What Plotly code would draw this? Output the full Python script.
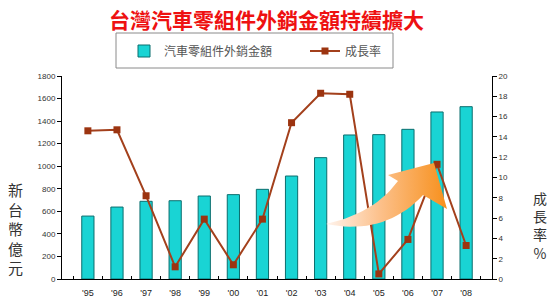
import plotly.graph_objects as go
import numpy as np

years = ["'95", "'96", "'97", "'98", "'99", "'00", "'01", "'02", "'03", "'04", "'05", "'06", "'07", "'08"]
export_value = [558, 638, 689, 694, 736, 748, 795, 913, 1076, 1277, 1280, 1327, 1481, 1528]
growth_rate = [14.6, 14.7, 8.2, 1.2, 5.9, 1.4, 5.9, 15.4, 18.3, 18.2, 0.5, 3.9, 11.3, 3.3]

W, H = 550, 303
L, R, T, B = 62, 58, 76, 24
PW, PH = W - L - R, H - T - B

def px(x):
    return (x - L) / PW

def py(y):
    return (H - B - y) / PH

fig = go.Figure()
fig.add_trace(go.Bar(
    x=years, y=export_value, name="汽車零組件外銷金額",
    marker=dict(color="#19d4d4", line=dict(color="#0b6e6e", width=1)),
    yaxis="y"))
fig.add_trace(go.Scatter(
    x=years, y=growth_rate, name="成長率", mode="lines+markers",
    line=dict(color="#a3401c", width=2),
    marker=dict(symbol="square", size=7, color="#9c3410"),
    yaxis="y2"))

# decorative arrow (pixel coordinates on an overlay axis)
def qbez(p0, p1, p2, n=20):
    t = np.linspace(0, 1, n)[:, None]
    p0, p1, p2 = map(np.array, (p0, p1, p2))
    return ((1 - t) ** 2 * p0 + 2 * (1 - t) * t * p1 + t ** 2 * p2)

top = qbez((326, 224), (375, 213), (398, 181))
head = np.array([(388, 175), (434, 163), (447, 209), (423, 195)])
bot = qbez((423, 195), (385, 236), (326, 224))
pts = np.vstack([top, head, bot])
fig.add_trace(go.Scatter(
    x=pts[:, 0], y=pts[:, 1], mode="lines", fill="toself",
    line=dict(width=0, color="rgba(0,0,0,0)"),
    fillgradient=dict(type="horizontal",
                      colorscale=[[0, "#fff4ee"], [0.45, "#fcc08a"], [1, "#f7901c"]]),
    showlegend=False, hoverinfo="skip", xaxis="x3", yaxis="y3"))

tickfont = dict(family="Liberation Sans, Arial", size=8, color="#333")
fig.update_layout(
    width=W, height=H, margin=dict(l=L, r=R, t=T, b=B),
    paper_bgcolor="white", plot_bgcolor="white",
    bargap=0.58,
    font=dict(family="Noto Sans CJK TC"),
    xaxis=dict(showline=True, linecolor="black", linewidth=1, ticks="inside",
               tickson="boundaries", ticklen=3, tickcolor="black",
               ticklabelstandoff=5, automargin=False,
               tickfont=dict(family="Liberation Sans, Arial", size=9, color="#222"),
               showgrid=False, fixedrange=True),
    yaxis=dict(range=[0, 1800], dtick=200, showline=True, linecolor="black",
               ticks="outside", ticklen=4, tickcolor="black", tickfont=tickfont,
               showgrid=False, zeroline=False),
    yaxis2=dict(range=[0, 20], dtick=2, overlaying="y", side="right", showline=True,
                linecolor="black", ticks="outside", ticklen=4, tickcolor="black",
                tickfont=tickfont, showgrid=False, zeroline=False),
    xaxis3=dict(range=[L, W - R], overlaying="x", visible=False, anchor="y3"),
    yaxis3=dict(range=[H - B, T], overlaying="y", visible=False, anchor="x3"),
    legend=dict(orientation="h", x=px(124), xanchor="left", y=py(51), yanchor="middle",
                borderwidth=0, entrywidth=136, bgcolor="rgba(0,0,0,0)",
                font=dict(size=12, color="#555", family="Noto Sans CJK TC"),
                itemwidth=30),
    showlegend=True,
)
fig.add_shape(type="rect", xref="paper", yref="paper",
              x0=px(116), x1=px(393), y0=py(68), y1=py(33),
              line=dict(color="#8a8a8a", width=1), fillcolor="rgba(0,0,0,0)")
fig.add_annotation(text="<b>台灣汽車零組件外銷金額持續擴大</b>", xref="paper", yref="paper",
                   x=px(266), y=py(19),
                   showarrow=False, xanchor="center", yanchor="middle",
                   font=dict(size=21, color="#ee1111", family="Noto Sans CJK TC"))
fig.add_annotation(text="新<br>台<br>幣<br>億<br>元", xref="paper", yref="paper",
                   x=px(15), y=py(228),
                   showarrow=False, xanchor="center", yanchor="middle",
                   font=dict(size=15, color="#333", family="Noto Sans CJK TC"))
fig.add_annotation(text="成<br>長<br>率<br>%", xref="paper", yref="paper",
                   x=px(540), y=py(225),
                   showarrow=False, xanchor="center", yanchor="middle",
                   font=dict(size=14, color="#333", family="Noto Sans CJK TC"))
fig.write_html("out.html")
